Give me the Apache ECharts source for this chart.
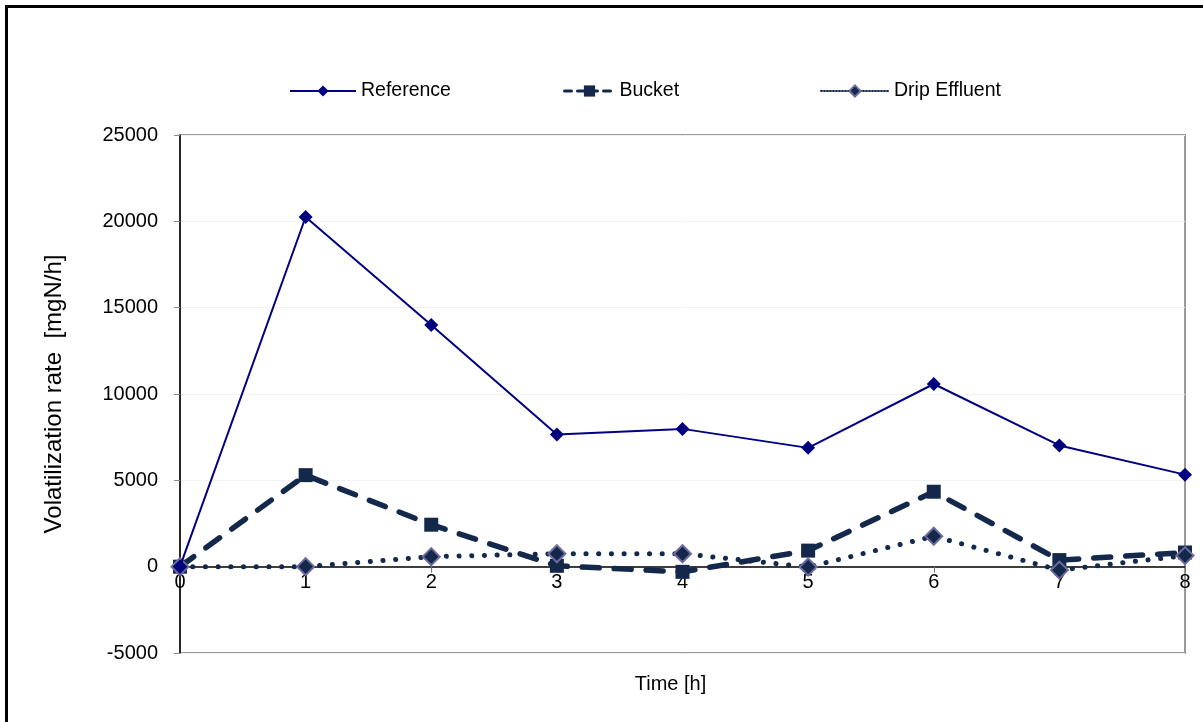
<!DOCTYPE html>
<html>
<head>
<meta charset="utf-8">
<script src="https://cdn.jsdelivr.net/npm/echarts@6/dist/echarts.min.js"></script>
<style>html,body{margin:0;padding:0;background:#fff}#c{width:1203px;height:722px}</style>
</head>
<body>
<div id="c"></div>
<script>
const categories = ['0','1','2','3','4','5','6','7','8'];
const reference = [0, 20250, 14000, 7650, 7980, 6880, 10580, 7020, 5330];
const bucket = [0, 5300, 2430, 50, -300, 930, 4340, 380, 820];
const dripEffluent = [0, 0, 580, 750, 750, -20, 1760, -200, 640];
const yTicks = { min: -5000, max: 25000, interval: 5000 };

const FONT = '"Liberation Sans", Arial, sans-serif';
const dark = '#13284a';
const W = 1203, H = 722;
const G = { left: 180, right: 18, top: 135, bottom: 69 };
const plotH = H - G.top - G.bottom;
const zeroOffset = -plotH * (0 - yTicks.min) / (yTicks.max - yTicks.min);

const chart = echarts.init(document.getElementById('c'), null, { renderer: 'canvas' });
const legendCommon = {
  top: 76, itemHeight: 14, itemGap: 10,
  textStyle: { fontFamily: FONT, fontSize: 19.5, color: '#000' }
};
chart.setOption({
  animation: false,
  backgroundColor: '#fff',
  graphic: [{
    type: 'rect', left: 4, top: 4, silent: true,
    shape: { x: 0, y: 0, width: 1210, height: 730 },
    style: { fill: 'none', stroke: '#000', lineWidth: 3 }
  }],
  legend: [
    Object.assign({}, legendCommon, { left: 284, itemWidth: 66, data: ['Reference'] }),
    Object.assign({}, legendCommon, { left: 558, itemWidth: 50, data: ['Bucket'],
      lineStyle: { type: [7, 6], width: 3 } }),
    Object.assign({}, legendCommon, { left: 815, itemWidth: 68, data: ['Drip Effluent'],
      lineStyle: { type: [1, 2], width: 2 } })
  ],
  grid: {
    left: G.left, right: G.right, top: G.top, bottom: G.bottom,
    outerBoundsMode: 'none', containLabel: false,
    show: true, borderColor: '#9a9a9a', borderWidth: 2, backgroundColor: 'transparent'
  },
  xAxis: {
    type: 'category', data: categories, boundaryGap: false,
    offset: zeroOffset,
    name: 'Time [h]', nameLocation: 'middle', nameGap: 108,
    nameTextStyle: { fontFamily: FONT, fontSize: 20, color: '#000', padding: [0, 24, 0, 0] },
    axisLine: { onZero: false, lineStyle: { color: '#000', width: 1.5 } },
    axisTick: { show: true, length: 6, alignWithLabel: true, lineStyle: { color: '#777' } },
    axisLabel: { fontFamily: FONT, fontSize: 20, color: '#000', margin: 6 },
    splitLine: { show: false }
  },
  yAxis: {
    type: 'value', min: yTicks.min, max: yTicks.max, interval: yTicks.interval,
    name: 'Volatilization rate  [mgN/h]', nameLocation: 'middle', nameGap: 114,
    nameTextStyle: { fontFamily: FONT, fontSize: 24, color: '#000' },
    axisLine: { show: true, onZero: false, lineStyle: { color: '#000', width: 1.5 } },
    axisTick: { show: true, length: 6, lineStyle: { color: '#888' } },
    axisLabel: { fontFamily: FONT, fontSize: 20, color: '#000', margin: 22,
      formatter: v => String(v) },
    splitLine: { show: true, lineStyle: { color: '#f2f2f2', width: 1 } }
  },
  series: [
    {
      name: 'Bucket', type: 'line', data: bucket, z: 2,
      symbol: 'rect', symbolSize: 14,
      itemStyle: { color: dark },
      lineStyle: { color: dark, width: 5.5, type: [17, 15], cap: 'round' }
    },
    {
      name: 'Drip Effluent', type: 'line', data: dripEffluent, z: 3,
      symbol: 'diamond', symbolSize: 17,
      itemStyle: { color: dark, borderColor: '#6c6a9e', borderWidth: 2 },
      lineStyle: { color: dark, width: 5, type: [0.1, 12.6], cap: 'round' }
    },
    {
      name: 'Reference', type: 'line', data: reference, z: 4,
      symbol: 'diamond', symbolSize: 14,
      itemStyle: { color: '#000080' },
      lineStyle: { color: '#000080', width: 2 }
    }
  ]
});
</script>
</body>
</html>
